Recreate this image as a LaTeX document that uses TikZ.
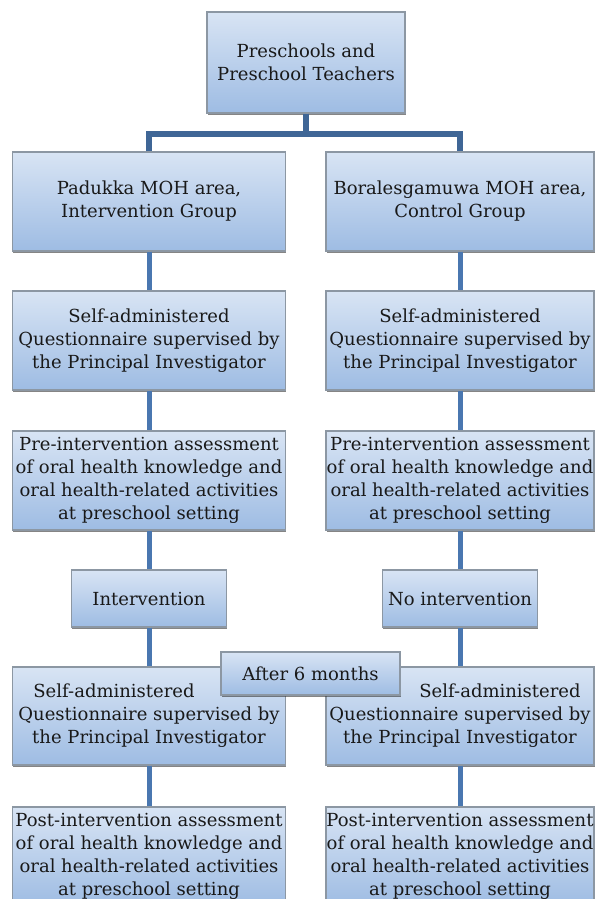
\documentclass[tikz,border=0pt]{standalone}
\usepackage{fontspec}
\setmainfont{DejaVu Serif}
\usetikzlibrary{shadows}
\definecolor{boxtop}{HTML}{D8E4F4}
\definecolor{boxbot}{HTML}{9EBCE3}
\definecolor{boxline}{HTML}{8C97A3}
\definecolor{linkblue}{HTML}{4A77B0}
\definecolor{elbowblue}{HTML}{3F6696}
\begin{document}
\begin{tikzpicture}[x=1pt, y=-1pt,
		flowbox/.style={draw=boxline, line width=1.2pt, top color=boxtop, bottom color=boxbot, inner sep=0pt, align=center, text=black!90, font=\fontsize{18}{23}\selectfont, drop shadow={shadow xshift=0.6pt, shadow yshift=-1.6pt, fill=black!80, opacity=0.6}},
		link/.style={draw=linkblue, line width=5pt},
		elbow/.style={draw=elbowblue, line width=5.5pt}]
		\useasboundingbox (0.00,0.00) rectangle (595.00,899.00);
		\clip (0.00,0.00) rectangle (595.00,899.00);
		% top and the two areas
		\node[flowbox, minimum width=198, minimum height=101] (top) at (306.00,62.50) {Preschools and\\Preschool Teachers};
		\node[flowbox, minimum width=273, minimum height=99] (areaL) at (149.00,201.50) {Padukka MOH area,\\Intervention Group};
		\node[flowbox, minimum width=268, minimum height=99] (areaR) at (460.00,201.50) {Boralesgamuwa MOH area,\\Control Group};
		\coordinate (split) at (306.00,134.00);
		\draw[elbow] (top.south) -- (split);
		\draw[elbow] (areaL.north) |- (split) -| (areaR.north);
		% questionnaire
		\node[flowbox, minimum width=273, minimum height=99] (quesL) at (149.00,340.50) {Self-administered\\Questionnaire supervised by\\the Principal Investigator};
		\node[flowbox, minimum width=268, minimum height=99] (quesR) at (460.00,340.50) {Self-administered\\Questionnaire supervised by\\the Principal Investigator};
		% pre-intervention
		\node[flowbox, minimum width=273, minimum height=99] (preL) at (149.00,480.50) {Pre-intervention assessment\\of oral health knowledge and\\oral health-related activities\\at preschool setting};
		\node[flowbox, minimum width=268, minimum height=99] (preR) at (460.00,480.50) {Pre-intervention assessment\\of oral health knowledge and\\oral health-related activities\\at preschool setting};
		% intervention
		\node[flowbox, minimum width=155, minimum height=57] (intL) at (149.00,598.50) {Intervention};
		\node[flowbox, minimum width=155, minimum height=57] (intR) at (460.00,598.50) {No intervention};
		% after 6 months
		\node[flowbox, minimum width=273, minimum height=98] (postqL) at (149.00,716.00) {\hspace*{-70pt}Self-administered\\Questionnaire supervised by\\the Principal Investigator};
		\node[flowbox, minimum width=268, minimum height=98] (postqR) at (460.00,716.00) {\hspace*{80pt}Self-administered\\Questionnaire supervised by\\the Principal Investigator};
		\node[flowbox, minimum width=179, minimum height=43] (after) at (310.50,673.50) {After 6 months};
		% post-intervention
		\node[flowbox, minimum width=273, minimum height=99] (postL) at (149.00,856.50) {Post-intervention assessment\\of oral health knowledge and\\oral health-related activities\\at preschool setting};
		\node[flowbox, minimum width=268, minimum height=99] (postR) at (460.00,856.50) {Post-intervention assessment\\of oral health knowledge and\\oral health-related activities\\at preschool setting};
		\draw[link] (areaL.south) -- (quesL.north);
		\draw[link] (areaR.south) -- (quesR.north);
		\draw[link] (quesL.south) -- (preL.north);
		\draw[link] (quesR.south) -- (preR.north);
		\draw[link] (preL.south) -- (intL.north);
		\draw[link] (preR.south) -- (intR.north);
		\draw[link] (intL.south) -- (postqL.north);
		\draw[link] (intR.south) -- (postqR.north);
		\draw[link] (postqL.south) -- (postL.north);
		\draw[link] (postqR.south) -- (postR.north);
	\end{tikzpicture}
\end{document}
